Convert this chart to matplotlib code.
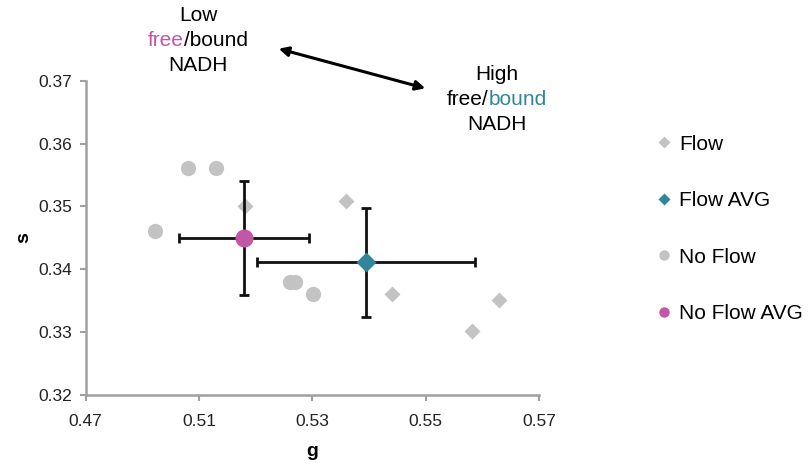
import matplotlib
matplotlib.use("Agg")
import matplotlib.pyplot as plt

plt.rcParams['font.family'] = ['Liberation Sans', 'DejaVu Sans']

# Data
flow_g = [0.5182, 0.5360, 0.5441, 0.5630, 0.5582]
flow_s = [0.3500, 0.3509, 0.3360, 0.3351, 0.3301]
flow_avg_g = [0.5395]
flow_avg_s = [0.3411]
flow_err_g = [0.0192]
flow_err_s = [0.0087]

noflow_g = [0.5081, 0.5130, 0.5022, 0.5261, 0.5270, 0.5301]
noflow_s = [0.3561, 0.3561, 0.3461, 0.3380, 0.3380, 0.3361]
noflow_avg_g = [0.5179]
noflow_avg_s = [0.3450]
noflow_err_g = [0.0115]
noflow_err_s = [0.0091]

x_ticks = [0.49, 0.51, 0.53, 0.55, 0.57]
x_tick_labels = ["0.47", "0.51", "0.53", "0.55", "0.57"]
y_ticks = [0.32, 0.33, 0.34, 0.35, 0.36, 0.37]
y_tick_labels = ["0.32", "0.33", "0.34", "0.35", "0.36", "0.37"]

gray = '#C3C3C3'
teal = '#31869B'
magenta = '#C257A6'
axis_gray = '#A0A0A0'

fig = plt.figure(figsize=(8.12, 4.69), dpi=100)
ax = fig.add_axes([0.1055, 0.1578, 0.5583, 0.6702])

ax.plot(flow_g, flow_s, linestyle='none', marker='D', ms=8, color=gray,
        mec='none', label='Flow', zorder=2)
ax.errorbar(flow_avg_g, flow_avg_s, xerr=flow_err_g, yerr=flow_err_s,
            fmt='none', ecolor='#111111', elinewidth=2, capsize=3.5, capthick=2, zorder=3)
ax.plot(flow_avg_g, flow_avg_s, linestyle='none', marker='D', ms=10.5, color=teal,
        mec='none', label='Flow AVG', zorder=4)
ax.plot(noflow_g, noflow_s, linestyle='none', marker='o', ms=11, color=gray,
        mec='none', label='No Flow', zorder=2)
ax.errorbar(noflow_avg_g, noflow_avg_s, xerr=noflow_err_g, yerr=noflow_err_s,
            fmt='none', ecolor='#111111', elinewidth=2, capsize=3.5, capthick=2, zorder=3)
ax.plot(noflow_avg_g, noflow_avg_s, linestyle='none', marker='o', ms=13, color=magenta,
        mec='none', label='No Flow AVG', zorder=4)

ax.set_xlim(0.49, 0.57)
ax.set_ylim(0.32, 0.37)
ax.set_xticks(x_ticks)
ax.set_xticklabels(x_tick_labels)
ax.set_yticks(y_ticks)
ax.set_yticklabels(y_tick_labels)

for side in ['top', 'right']:
    ax.spines[side].set_visible(False)
for side in ['left', 'bottom']:
    ax.spines[side].set_color(axis_gray)
    ax.spines[side].set_linewidth(1.8)
ax.tick_params(axis='both', colors=axis_gray, length=4, width=1.5, labelsize=12.5,
               labelcolor='#222222')
ax.tick_params(axis='x', pad=10)
ax.tick_params(axis='y', pad=6)

ax.set_xlabel('g', fontsize=14, fontweight='bold', labelpad=10)
ax.set_ylabel('s', fontsize=14, fontweight='bold', labelpad=4)

leg = ax.legend(loc='center left', bbox_to_anchor=(1.240, 0.528), frameon=False,
                fontsize=15, handletextpad=0.3, labelspacing=1.8, handlelength=0.8,
                borderaxespad=0)
for h in leg.legend_handles:
    if h.get_marker() == 'D':
        h.set_markersize(6.5)
    else:
        h.set_markersize(7.5)

# Annotations
fs = 15
H = 469


def two_color(cx, y, a, ca, b, cb):
    ta = fig.text(0, H - y, a, fontsize=fs, color=ca, ha='left', va='center', transform=None)
    tb = fig.text(0, H - y, b, fontsize=fs, color=cb, ha='left', va='center', transform=None)
    fig.canvas.draw()
    r = fig.canvas.get_renderer()
    wa = ta.get_window_extent(r).width
    wb = tb.get_window_extent(r).width
    x0 = cx - (wa + wb) / 2
    ta.set_position((x0, H - y))
    tb.set_position((x0 + wa, H - y))


fig.text(198, H - 15, 'Low', fontsize=fs, ha='center', va='center', transform=None)
two_color(198, 40, 'free', magenta, '/bound', 'black')
fig.text(198, H - 65, 'NADH', fontsize=fs, ha='center', va='center', transform=None)

fig.text(497, H - 74, 'High', fontsize=fs, ha='center', va='center', transform=None)
two_color(497, 99, 'free/', 'black', 'bound', teal)
fig.text(497, H - 124, 'NADH', fontsize=fs, ha='center', va='center', transform=None)

fig.patches.append(matplotlib.patches.FancyArrowPatch(
    (276, H - 48), (428, H - 89), arrowstyle='<|-|>', mutation_scale=14,
    color='black', lw=2.2, transform=None, figure=fig))

fig.savefig('out.png', dpi=100)
